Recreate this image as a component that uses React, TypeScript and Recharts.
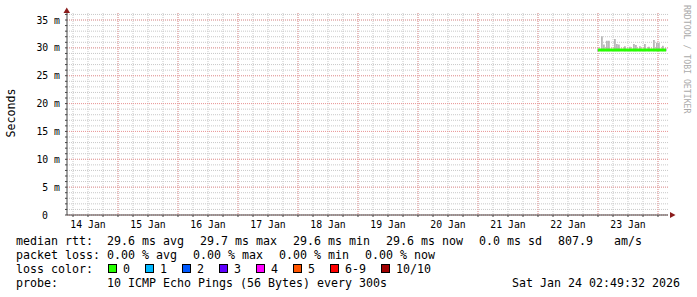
import { Bar, CartesianGrid, ComposedChart, Line, XAxis, YAxis } from 'recharts';

// hours since 14 Jan 00:00
const sampleHours = [216.0, 217.6, 218.4, 219.6, 220.4, 222.8, 223.6, 224.4, 226.8, 228.8, 230.4, 231.2, 232.8, 234.8, 236.4, 238.4, 239.6, 240.4, 242.0, 243.2];
const medianMs = [29.6, 29.6, 29.6, 29.6, 29.6, 29.6, 29.6, 29.6, 29.6, 29.6, 29.6, 29.6, 29.6, 29.6, 29.6, 29.6, 29.6, 29.6, 29.6, 29.6];
const smokeLowMs = [29.4, 29.4, 29.4, 29.4, 29.4, 29.4, 29.4, 29.4, 29.4, 29.4, 29.4, 29.4, 29.4, 29.4, 29.4, 29.4, 29.4, 29.4, 29.4, 29.4];
const smokeHighMs = [29.9, 32.1, 30.6, 31.3, 31.3, 31.6, 30.7, 30.6, 30.3, 30.2, 30.7, 30.5, 30.3, 30.7, 30.2, 31.4, 30.9, 30.9, 30.4, 29.9];

const dayLabels = ['14 Jan', '15 Jan', '16 Jan', '17 Jan', '18 Jan', '19 Jan', '20 Jan', '21 Jan', '22 Jan', '23 Jan'];
const dayNoonHours = [12, 36, 60, 84, 108, 132, 156, 180, 204, 228];
const yLabelValues = [0, 5, 10, 15, 20, 25, 30, 35];

const lossColors = ['#26ff00', '#00b8ff', '#0059ff', '#5e00ff', '#ff00ff', '#ff5500', '#ff0000', '#a00000'];
const lossLabels = ['0', '1', '2', '3', '4', '5', '6-9', '10/10'];

const X_MIN = 3.6;
const X_MAX = 244;
const Y_MAX = 36.26;
const W = 697;
const MONO = '"DejaVu Sans Mono", monospace';
const CH = 7; // mono char advance at 11.63px

const minorHours = Array.from({ length: 40 }, (_, i) => (i + 1) * 6);
const majorHours = minorHours.filter((h) => h % 24 === 0);
const minorMs = Array.from({ length: 36 }, (_, i) => i + 1);
const majorMs = yLabelValues;

const rows = sampleHours.map((t, i) => ({
  t,
  median: medianMs[i],
  smoke: [smokeLowMs[i], smokeHighMs[i]],
}));

// legend swatch positions: swatch, 15px to label, label, 15px gap
const swatchX: number[] = [];
lossLabels.reduce((x, lbl) => {
  swatchX.push(x);
  return x + 15 + lbl.length * CH + 15;
}, 108);

function XTick({ x, y, payload }: any) {
  const idx = dayNoonHours.indexOf(payload.value);
  if (idx < 0) return <g />;
  return (
    <text x={x} y={y + 11} textAnchor="middle" fontFamily={MONO} fontSize={9.8} fill="#000">
      {dayLabels[idx]}
    </text>
  );
}

function YTick({ x, y, payload }: any) {
  const v = payload.value as number;
  if (!yLabelValues.includes(v)) return <g />;
  return (
    <text x={v === 0 ? x - 17 : x - 5} y={y + 3.5} textAnchor="end" fontFamily={MONO} fontSize={9.8} fill="#000">
      {v === 0 ? '0' : `${v} m`}
    </text>
  );
}

const line1 = [
  [16, 'median rtt:'],
  [107, '29.6 ms avg'],
  [200, '29.7 ms max'],
  [293, '29.6 ms min'],
  [386, '29.6 ms now'],
  [479, '0.0 ms sd'],
  [558, '807.9'],
  [614, 'am/s'],
] as const;
const line2 = [
  [16, 'packet loss:'],
  [107, '0.00 % avg'],
  [193, '0.00 % max'],
  [279, '0.00 % min'],
  [365, '0.00 % now'],
] as const;

export default function App() {
  return (
    <div style={{ position: 'absolute', left: 0, top: 0, width: W, height: 297, background: '#fff', overflow: 'hidden' }}>
      <ComposedChart width={W} height={232} data={rows} margin={{ top: 13, right: 29, bottom: 0, left: 0 }}>
        <CartesianGrid
          stroke="#c8c8c8"
          strokeDasharray="1 1"
          horizontalValues={minorMs}
          verticalValues={minorHours}
        />
        <CartesianGrid
          stroke="#ee9a9a"
          strokeDasharray="1 1"
          horizontalValues={majorMs}
          verticalValues={majorHours}
        />
        <XAxis
          dataKey="t"
          type="number"
          domain={[X_MIN, X_MAX]}
          allowDataOverflow
          ticks={minorHours}
          interval={0}
          tickSize={2}
          tickMargin={0}
          height={17}
          stroke="#444"
          tick={<XTick />}
        />
        <YAxis
          type="number"
          domain={[0, Y_MAX]}
          allowDataOverflow
          ticks={[0, ...minorMs]}
          interval={0}
          tickSize={2}
          tickMargin={0}
          width={67}
          stroke="#444"
          tick={<YTick />}
        />
        <Bar dataKey="smoke" fill="#b8b8b8" barSize={2} isAnimationActive={false} />
        <Line
          dataKey="median"
          stroke="#26ff00"
          strokeWidth={3}
          dot={false}
          type="linear"
          isAnimationActive={false}
        />
      </ComposedChart>
      <svg width={W} height={297} style={{ position: 'absolute', left: 0, top: 0, pointerEvents: 'none' }}>
        <polygon points="63.5,13 70,13 66.75,7.5" fill="#8b1c1c" />
        <polygon points="670,212 670,218 675.5,215" fill="#8b1c1c" />
        <text
          transform="translate(15,113) rotate(-90)"
          textAnchor="middle"
          fontFamily={MONO}
          fontSize={11.6}
          fill="#000"
        >
          Seconds
        </text>
        <text transform="translate(684,5) rotate(90)" fontFamily={MONO} fontSize={8.2} fill="#aaa">
          RRDTOOL / TOBI OETIKER
        </text>
        <g fontFamily={MONO} fontSize={11.63} fill="#000">
          {line1.map(([x, s]) => (
            <text key={s + x} x={x} y={245}>{s}</text>
          ))}
          {line2.map(([x, s]) => (
            <text key={s + x} x={x} y={259}>{s}</text>
          ))}
          <text x={16} y={273}>loss color:</text>
          {lossLabels.map((lbl, i) => (
            <g key={lbl}>
              <rect x={swatchX[i] + 0.5} y={264.5} width={8} height={8} fill={lossColors[i]} stroke="#000" strokeWidth={1} />
              <text x={swatchX[i] + 15} y={273}>{lbl}</text>
            </g>
          ))}
          <text x={16} y={287}>probe:</text>
          <text x={107} y={287}>10 ICMP Echo Pings (56 Bytes) every 300s</text>
          <text x={680} y={287} textAnchor="end">Sat Jan 24 02:49:32 2026</text>
        </g>
      </svg>
    </div>
  );
}
